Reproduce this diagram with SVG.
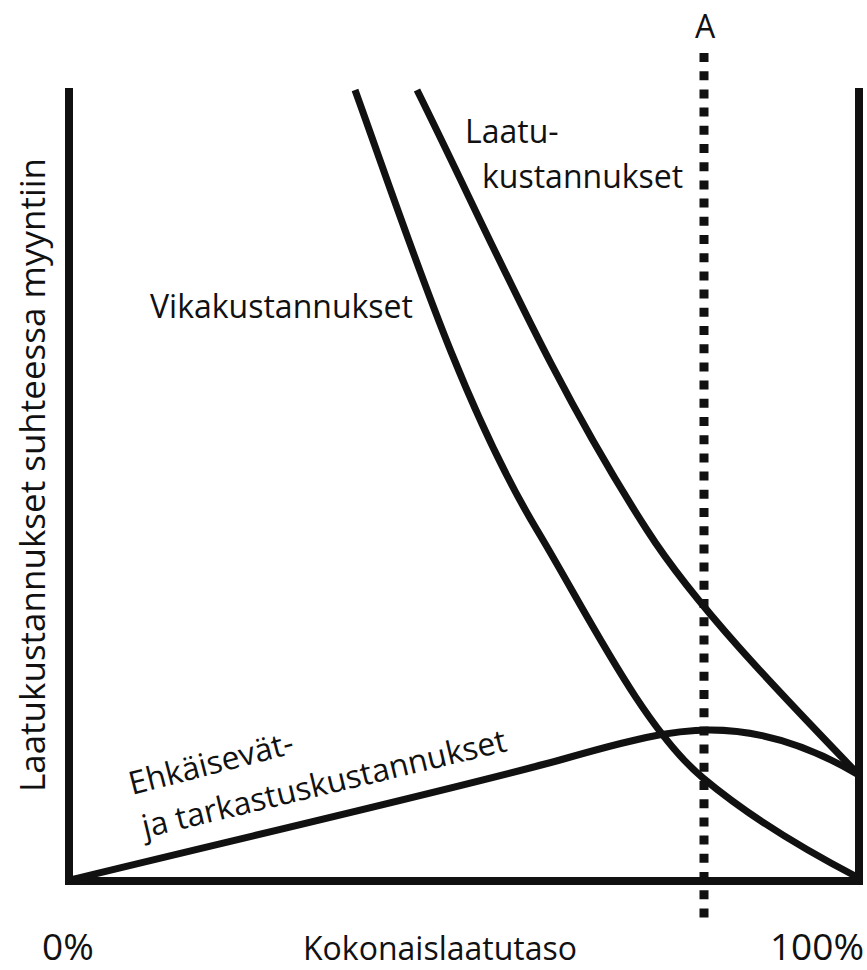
<svg xmlns="http://www.w3.org/2000/svg" width="867" height="970" viewBox="0 0 867 970">
<style>
.t{font-family:"Open Sans","Noto Sans","Liberation Sans",sans-serif;font-size:32px;fill:#111}
.big{font-size:37px}
.yl{font-size:35px}
.a{font-size:32px}
.ax{fill:none;stroke:#111;stroke-width:8;stroke-linejoin:miter;stroke-linecap:butt}
.c{fill:none;stroke:#111;stroke-width:7;stroke-linecap:butt}
.d{fill:none;stroke:#111;stroke-width:9;stroke-dasharray:9 9.2}
</style>
<rect width="867" height="970" fill="#fff"/>
<g id="axes">
<path class="ax" d="M69,88 V881 H859 V88"/>
</g>
<g id="connectors">
<path id="vikakustannukset-curve" class="c" d="M355,90 C408,237 462,405 537,530 C587,613 643,728 703,778 C753,820 807,851 857,877"/>
<path id="laatukustannukset-curve" class="c" d="M417,90 C490,237 552,383 647,530 C695,605 777,690 857,773"/>
<path id="ehkaisevat-curve" class="c" d="M70,880 C250,836 450,790 560,760 C630,740 670,730 710,730 C770,730 820,752 857,774"/>
<path id="line-A" class="d" d="M704,53 V925"/>
</g>
<g id="label-A"><text class="t a" x="705" y="38" text-anchor="middle">A</text></g>
<g id="label-laatu">
<text class="t" x="465" y="143">Laatu-</text>
<text class="t" x="482" y="188">kustannukset</text>
</g>
<g id="label-vika"><text class="t" x="150" y="318">Vikakustannukset</text></g>
<g id="label-ehk">
<text class="t" transform="translate(132,795) rotate(-14.5)">Ehkäisevät-</text>
<text class="t" transform="translate(145,838) rotate(-13.5)">ja tarkastuskustannukset</text>
</g>
<g id="label-y"><text class="t yl" transform="translate(45,475) rotate(-90)" text-anchor="middle">Laatukustannukset suhteessa myyntiin</text></g>
<g id="label-x">
<text class="t big" x="42" y="960">0%</text>
<text class="t" x="303" y="960">Kokonaislaatutaso</text>
<text class="t big" x="864" y="960" text-anchor="end">100%</text>
</g>
</svg>
